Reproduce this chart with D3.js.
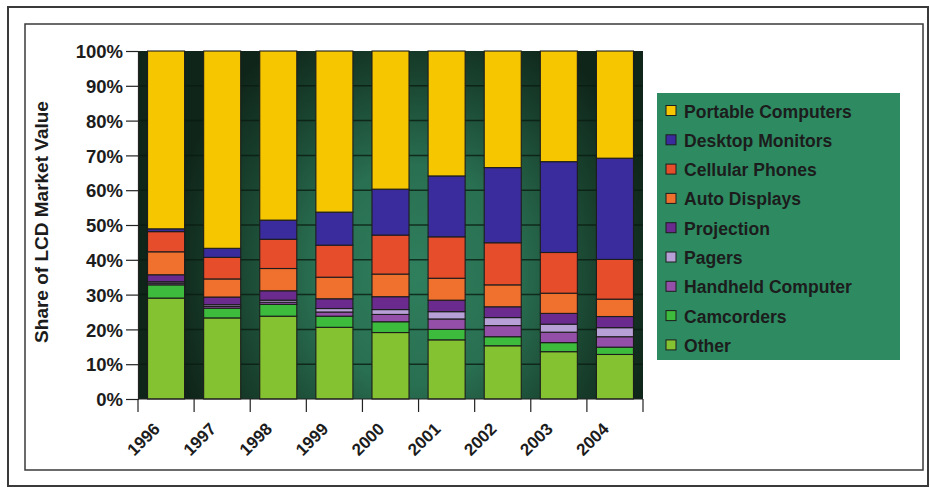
<!DOCTYPE html>
<html>
<head>
<meta charset="utf-8">
<script src="https://cdn.jsdelivr.net/npm/d3@7"></script>
<style>
  html, body { margin: 0; padding: 0; background: #ffffff; }
  svg { display: block; }
  text { font-family: "Liberation Sans", Arial, Helvetica, sans-serif; font-weight: bold; fill: #1c1c1c; }
</style>
</head>
<body>
<svg id="chart" width="930" height="492"></svg>
<script>
// Years on the horizontal axis
const years = ["1996", "1997", "1998", "1999", "2000", "2001", "2002", "2003", "2004"];

// Share of LCD market value (%) per application, one entry per year
const other            = [29.0, 23.3, 23.8, 20.6, 19.1, 17.0, 15.3, 13.6, 12.8];
const camcorders       = [3.8, 2.8, 3.4, 3.2, 3.1, 3.0, 2.6, 2.6, 2.1];
const handheldComputer = [0.5, 0.5, 0.6, 1.2, 2.1, 3.0, 3.2, 3.0, 3.0];
const pagers           = [0.4, 0.5, 0.6, 1.0, 1.4, 2.1, 2.3, 2.3, 2.6];
const projection       = [2.0, 2.2, 2.7, 2.8, 3.7, 3.3, 3.1, 3.1, 3.2];
const autoDisplays     = [6.6, 5.2, 6.4, 6.2, 6.5, 6.3, 6.3, 5.8, 5.0];
const cellularPhones   = [5.8, 6.2, 8.4, 9.2, 11.2, 11.9, 12.1, 11.7, 11.4];
const desktopMonitors  = [0.8, 2.6, 5.5, 9.5, 13.2, 17.5, 21.6, 26.1, 29.1];
const portableComputers= [51.1, 56.7, 48.6, 46.3, 39.7, 35.9, 33.5, 31.8, 30.8];

// Y-axis tick values
const yTicks = [0, 10, 20, 30, 40, 50, 60, 70, 80, 90, 100];

// Series in stacking order, bottom to top
const seriesNames = ["Other", "Camcorders", "Handheld Computer", "Pagers", "Projection",
                     "Auto Displays", "Cellular Phones", "Desktop Monitors", "Portable Computers"];
const seriesValues = [other, camcorders, handheldComputer, pagers, projection,
                      autoDisplays, cellularPhones, desktopMonitors, portableComputers];
const seriesColors = ["#84c232", "#3dbb3c", "#9450a8", "#b7a0d6", "#6a2a8e",
                      "#f0702e", "#e64d2a", "#3a2c9c", "#f6c600"];

const rows = years.map((y, i) => {
  const r = { year: y };
  seriesNames.forEach((n, k) => { r[n] = seriesValues[k][i]; });
  return r;
});

const svg = d3.select("#chart");

// Double frame around the figure
svg.append("rect").attr("x", 8).attr("y", 7).attr("width", 920).attr("height", 479)
  .attr("fill", "none").attr("stroke", "#3a3a3a").attr("stroke-width", 2);
svg.append("rect").attr("x", 25).attr("y", 24).attr("width", 898).attr("height", 446)
  .attr("fill", "none").attr("stroke", "#3a3a3a").attr("stroke-width", 1.5);

const plot = { left: 138, right: 643, top: 51, bottom: 399 };

const x = d3.scaleBand().domain(years).range([plot.left, plot.right])
  .paddingInner(0.34).paddingOuter(0.17);
const y = d3.scaleLinear().domain([0, 100]).range([plot.bottom, plot.top]);

// Plot background: dark green with a lighter glow toward the middle
const defs = svg.append("defs");
const grad = defs.append("radialGradient").attr("id", "bgGlow")
  .attr("gradientUnits", "userSpaceOnUse")
  .attr("cx", 415).attr("cy", 275).attr("r", 250)
  .attr("gradientTransform", "translate(415,275) scale(1,1.1) translate(-415,-275)");
grad.append("stop").attr("offset", 0).attr("stop-color", "#2f7f5d");
grad.append("stop").attr("offset", 0.4).attr("stop-color", "#296f51");
grad.append("stop").attr("offset", 0.75).attr("stop-color", "#18402d");
grad.append("stop").attr("offset", 1).attr("stop-color", "#0f2519");

svg.append("rect")
  .attr("x", plot.left).attr("y", plot.top)
  .attr("width", plot.right - plot.left).attr("height", plot.bottom - plot.top)
  .attr("fill", "url(#bgGlow)");

// Horizontal gridlines behind the bars
svg.append("g").selectAll("line").data(yTicks.filter(d => d > 0 && d < 100)).join("line")
  .attr("x1", plot.left).attr("x2", plot.right)
  .attr("y1", d => y(d)).attr("y2", d => y(d))
  .attr("stroke", "#0b1c12").attr("stroke-width", 1.5).attr("opacity", 0.8);

// Stacked bars
const stack = d3.stack().keys(seriesNames)(rows);
svg.append("g").selectAll("g").data(stack).join("g")
  .attr("fill", (d, i) => seriesColors[i])
  .selectAll("rect").data(d => d).join("rect")
  .attr("x", d => x(d.data.year))
  .attr("width", x.bandwidth())
  .attr("y", d => y(d[1]))
  .attr("height", d => y(d[0]) - y(d[1]))
  .attr("stroke", "#1d1d1d").attr("stroke-width", 1.1);

// Y axis
const yAxis = svg.append("g").attr("transform", `translate(${plot.left},0)`)
  .call(d3.axisLeft(y).tickValues(yTicks).tickFormat(d => d + "%").tickSize(12).tickPadding(3));
yAxis.select(".domain").attr("stroke", "#222").attr("stroke-width", 1.2);
yAxis.selectAll(".tick line").attr("stroke", "#222").attr("stroke-width", 1.2);
yAxis.selectAll(".tick text").attr("font-size", 18.5).attr("fill", "#1c1c1c")
  .attr("font-family", null).attr("dy", "0.36em");

// X axis: baseline, ticks on band boundaries, rotated year labels
const step = x.step();
const bounds = years.map(yr => x(yr) - x.paddingInner() * step / 2).concat([plot.right]);
svg.append("line").attr("x1", plot.left).attr("x2", plot.right)
  .attr("y1", plot.bottom).attr("y2", plot.bottom).attr("stroke", "#222").attr("stroke-width", 1.2);
svg.append("g").selectAll("line").data(bounds).join("line")
  .attr("x1", d => d).attr("x2", d => d)
  .attr("y1", plot.bottom).attr("y2", plot.bottom + 13)
  .attr("stroke", "#222").attr("stroke-width", 1.2);
svg.append("g").selectAll("text").data(years).join("text")
  .attr("transform", d => `translate(${x(d) + x.bandwidth() / 2 - 5},${430}) rotate(-45)`)
  .attr("text-anchor", "end")
  .attr("font-size", 17)
  .text(d => d);

// Y axis title
svg.append("text")
  .attr("transform", `translate(48,${(plot.top + plot.bottom) / 2 - 3}) rotate(-90)`)
  .attr("text-anchor", "middle")
  .attr("font-size", 19)
  .text("Share of LCD Market Value");

// Legend
const legend = svg.append("g");
legend.append("rect").attr("x", 657).attr("y", 93).attr("width", 243).attr("height", 267)
  .attr("fill", "#2d8a61");
const legendOrder = seriesNames.slice().reverse();
const legendColors = seriesColors.slice().reverse();
const items = legend.selectAll("g.item").data(legendOrder).join("g")
  .attr("class", "item")
  .attr("transform", (d, i) => `translate(0,${110.5 + i * 29.3})`);
items.append("rect")
  .attr("x", 666).attr("y", -5).attr("width", 10).attr("height", 10)
  .attr("fill", (d, i) => legendColors[i])
  .attr("stroke", "#1d1d1d").attr("stroke-width", 1);
items.append("text")
  .attr("transform", "translate(684,7) scale(0.95,1)")
  .attr("font-size", 18.5)
  .attr("fill", "#141414")
  .text(d => d);
</script>
</body>
</html>
